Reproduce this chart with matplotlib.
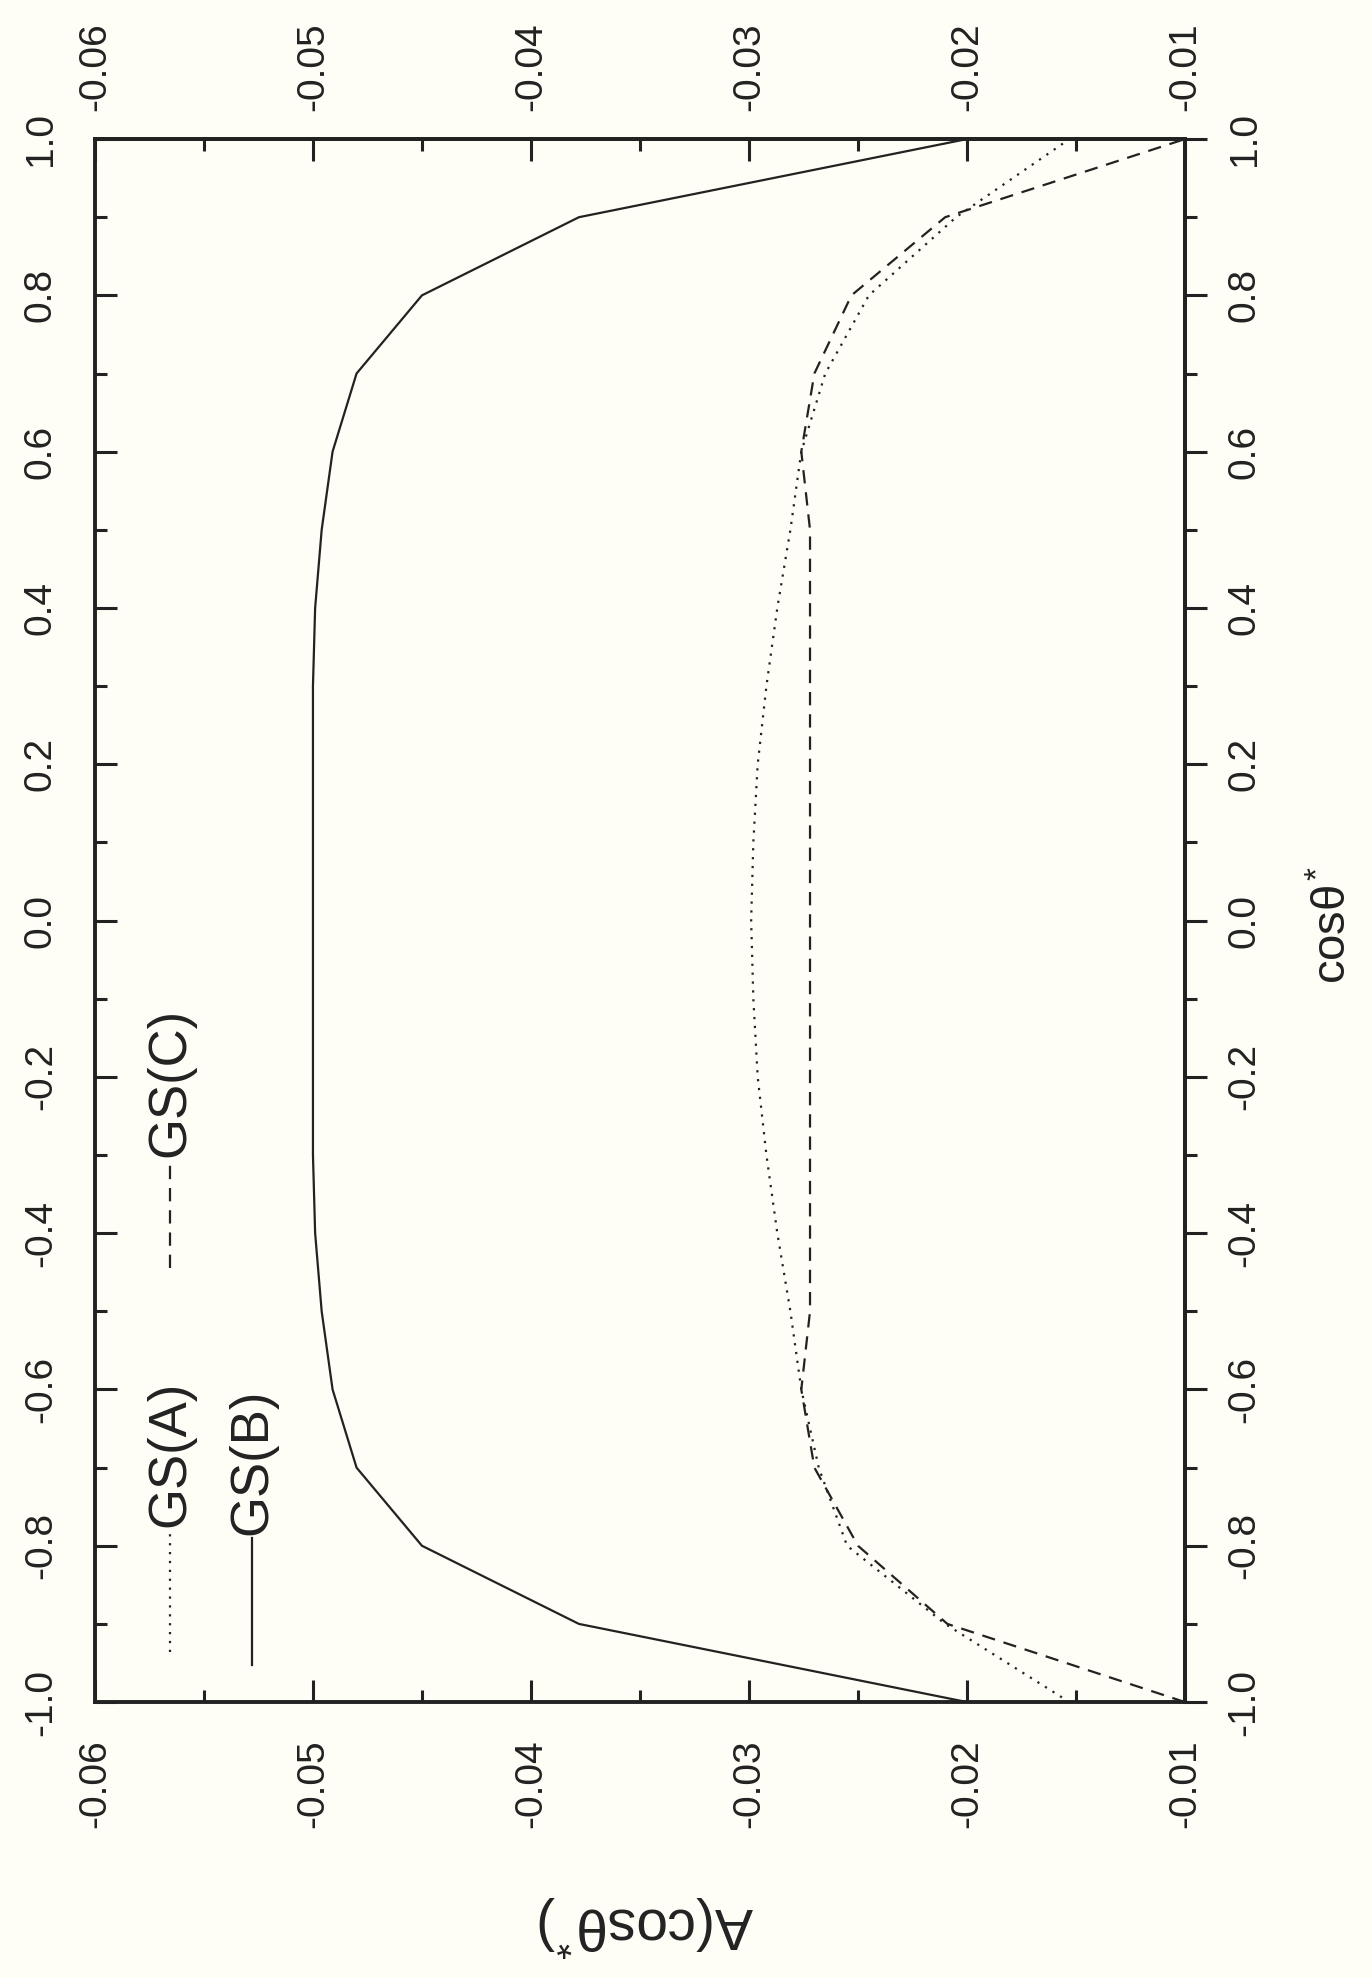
import matplotlib
matplotlib.use('Agg')
import matplotlib.pyplot as plt
from matplotlib.lines import Line2D

# data read from the (rotated) scan: A(cos theta*) for three models
cos_theta = [-1.0, -0.9, -0.8, -0.7, -0.6, -0.5, -0.4, -0.3, -0.2, -0.1, 0.0,
             0.1, 0.2, 0.3, 0.4, 0.5, 0.6, 0.7, 0.8, 0.9, 1.0]
gs_a = [-0.0153, -0.0210, -0.0255, -0.0268, -0.0276, -0.0281, -0.0287, -0.0292,
        -0.0296, -0.0298, -0.0299, -0.0298, -0.0296, -0.0292, -0.0287, -0.0281,
        -0.0276, -0.0265, -0.0245, -0.0205, -0.0153]
gs_b = [-0.0200, -0.0378, -0.0450, -0.0480, -0.0491, -0.0496, -0.0499, -0.0500,
        -0.0500, -0.0500, -0.0500, -0.0500, -0.0500, -0.0500, -0.0499, -0.0496,
        -0.0491, -0.0480, -0.0450, -0.0378, -0.0200]
gs_c = [-0.0100, -0.0209, -0.0250, -0.0270, -0.0276, -0.0272, -0.0272, -0.0272,
        -0.0272, -0.0272, -0.0272, -0.0272, -0.0272, -0.0272, -0.0272, -0.0272,
        -0.0276, -0.0270, -0.0253, -0.0210, -0.0100]

a_ticks = [-0.06, -0.05, -0.04, -0.03, -0.02, -0.01]
a_labels = ['-0.06', '-0.05', '-0.04', '-0.03', '-0.02', '-0.01']
c_ticks = [-1.0, -0.8, -0.6, -0.4, -0.2, 0.0, 0.2, 0.4, 0.6, 0.8, 1.0]
c_labels = ['-1.0', '-0.8', '-0.6', '-0.4', '-0.2', '0.0', '0.2', '0.4', '0.6', '0.8', '1.0']

plt.rcParams['font.family'] = ['Liberation Sans', 'DejaVu Sans']
plt.rcParams['mathtext.fontset'] = 'custom'
plt.rcParams['mathtext.rm'] = 'Liberation Sans'
plt.rcParams['mathtext.it'] = 'Liberation Sans'
plt.rcParams['mathtext.bf'] = 'Liberation Sans:bold'

ink = '#222222'
paper = '#fefef6'
tick_fs = 28

fig = plt.figure(figsize=(13.72, 19.78), dpi=100, facecolor=paper)
ax = fig.add_axes([0.0692, 0.1395, 0.7945, 0.7902], facecolor=paper)

lw = 1.6
dotted = (0, (1, 3))
dashed = (0, (6, 4))
ax.plot(gs_a, cos_theta, color=ink, lw=lw, linestyle=dotted)
ax.plot(gs_b, cos_theta, color=ink, lw=lw, linestyle='-')
ax.plot(gs_c, cos_theta, color=ink, lw=lw, linestyle=dashed)

ax.set_xlim(-0.06, -0.01)
ax.set_ylim(-1.0, 1.0)
for sp in ax.spines.values():
    sp.set_linewidth(2.8)
    sp.set_color(ink)

# bottom and left: ticks pointing in
ax.set_xticks(a_ticks)
ax.set_xticklabels(a_labels)
ax.set_xticks([-0.055, -0.045, -0.035, -0.025, -0.015], minor=True)
ax.set_yticks(c_ticks)
ax.set_yticklabels(c_labels)
ax.set_yticks([-0.9, -0.7, -0.5, -0.3, -0.1, 0.1, 0.3, 0.5, 0.7, 0.9], minor=True)
ax.tick_params(axis='x', which='both', direction='in', top=False, bottom=True,
               width=2.2, color=ink, labelcolor=ink, labelsize=tick_fs,
               labelrotation=90, pad=27)
ax.tick_params(axis='y', which='both', direction='in', left=True, right=False,
               width=2.2, color=ink, labelcolor=ink, labelsize=tick_fs,
               labelrotation=90, pad=26)
ax.tick_params(which='major', length=16)
ax.tick_params(which='minor', length=8.5)
for lab in ax.get_yticklabels():
    lab.set_va('center')

# top: ticks pointing in, labels above
top = ax.secondary_xaxis('top')
top.set_xticks(a_ticks)
top.set_xticklabels(a_labels)
top.set_xticks([-0.055, -0.045, -0.035, -0.025, -0.015], minor=True)
top.tick_params(which='both', direction='in', width=2.2, color=ink, labelcolor=ink,
                labelsize=tick_fs, labelrotation=90, pad=20)
top.tick_params(which='major', length=16)
top.tick_params(which='minor', length=8.5)
top.spines['top'].set_linewidth(2.8)
top.spines['top'].set_color(ink)

# right: ticks pointing out
right = ax.secondary_yaxis('right')
right.set_yticks(c_ticks)
right.set_yticklabels(c_labels)
right.set_yticks([-0.9, -0.7, -0.5, -0.3, -0.1, 0.1, 0.3, 0.5, 0.7, 0.9], minor=True)
right.tick_params(which='both', direction='out', width=2.2, color=ink, labelcolor=ink,
                  labelsize=tick_fs, labelrotation=90, pad=14)
right.tick_params(which='major', length=16)
right.tick_params(which='minor', length=8.5)
right.spines['right'].set_linewidth(2.8)
right.spines['right'].set_color(ink)
for lab in right.get_yticklabels():
    lab.set_va('center')

# axis titles, rotated like the scan
fig.text(0.972, 0.532, r'cos$\theta^{*}$', rotation=90, fontsize=34, color=ink,
         ha='center', va='center')
fig.text(0.471, 0.026, r'A(cos$\theta^{*}$)', rotation=180, fontsize=41, color=ink,
         ha='center', va='center')

# legend drawn by hand (rotated)
leg_fs = 38
entries = [('GS(A)', dotted, 0.069, 0.032, 0.110),
           ('GS(B)', '-', 0.144, 0.024, 0.105),
           ('GS(C)', dashed, 0.069, 0.278, 0.347)]
for name, ls, xf, y0, y1 in entries:
    ax.add_line(Line2D([xf, xf], [y0, y1], transform=ax.transAxes, color=ink,
                       lw=lw, linestyle=ls))
    ax.text(xf, y1 + 0.002, name, transform=ax.transAxes, rotation=90,
            fontsize=leg_fs, color=ink, ha='center', va='bottom')

fig.savefig('out.png', dpi=100, facecolor=paper)
